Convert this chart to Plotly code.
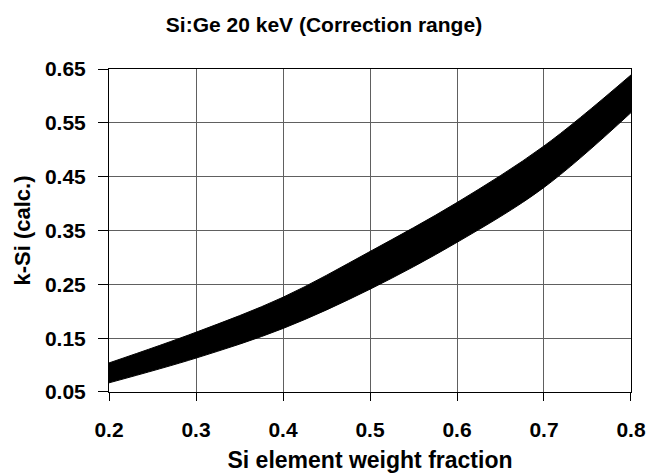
import plotly.graph_objects as go

# Data
si_fraction = [0.2, 0.3, 0.4, 0.5, 0.6, 0.7, 0.8]
k_upper = [0.104, 0.161, 0.226, 0.311, 0.402, 0.507, 0.639]
k_lower = [0.067, 0.113, 0.168, 0.241, 0.328, 0.430, 0.569]

x_ticks = [0.2, 0.3, 0.4, 0.5, 0.6, 0.7, 0.8]
y_ticks = [0.05, 0.15, 0.25, 0.35, 0.45, 0.55, 0.65]

FONT = "Liberation Sans, Arial, sans-serif"

fig = go.Figure()
fig.add_trace(go.Scatter(
    x=si_fraction, y=k_lower, mode="lines",
    line=dict(color="black", width=1, shape="spline"),
    showlegend=False, hoverinfo="skip"))
fig.add_trace(go.Scatter(
    x=si_fraction, y=k_upper, mode="lines",
    line=dict(color="black", width=1, shape="spline"),
    fill="tonexty", fillcolor="black",
    showlegend=False, hoverinfo="skip"))

fig.update_layout(
    width=648, height=473,
    margin=dict(l=109, r=17, t=69, b=81),
    paper_bgcolor="white", plot_bgcolor="white",
    font=dict(family=FONT, color="black"),
    title=dict(text="<b>Si:Ge 20 keV (Correction range)</b>",
               x=0.5, xanchor="center", y=1 - 25 / 473, yanchor="middle",
               font=dict(size=21, family=FONT, color="black")),
    xaxis=dict(
        range=[0.19999, 0.80001], tickvals=x_ticks, tickformat=".1f",
        automargin=False,
        showgrid=True, gridcolor="#606060", gridwidth=1,
        showline=True, linecolor="black", linewidth=1, mirror=True,
        ticks="outside", ticklen=8, tickcolor="black",
        ticklabelstandoff=11,
        tickfont=dict(size=21, family=FONT, weight="bold"),
        title=dict(text="<b>Si element weight fraction</b>",
                   font=dict(size=23, family=FONT), standoff=12),
        zeroline=False),
    yaxis=dict(
        range=[0.04999, 0.65001], tickvals=y_ticks, tickformat=".2f",
        automargin=False,
        showgrid=True, gridcolor="#606060", gridwidth=1,
        showline=True, linecolor="black", linewidth=1, mirror=True,
        ticks="outside", ticklen=10, tickcolor="black",
        ticklabelstandoff=8,
        tickfont=dict(size=21, family=FONT, weight="bold"),
        title=dict(text="<b>k-Si (calc.)</b>",
                   font=dict(size=22, family=FONT), standoff=8),
        zeroline=False),
)

fig.write_html(
    "out.html",
    config={"displayModeBar": False},
    post_script="document.body.style.margin='0';document.body.style.overflow='hidden';",
)
